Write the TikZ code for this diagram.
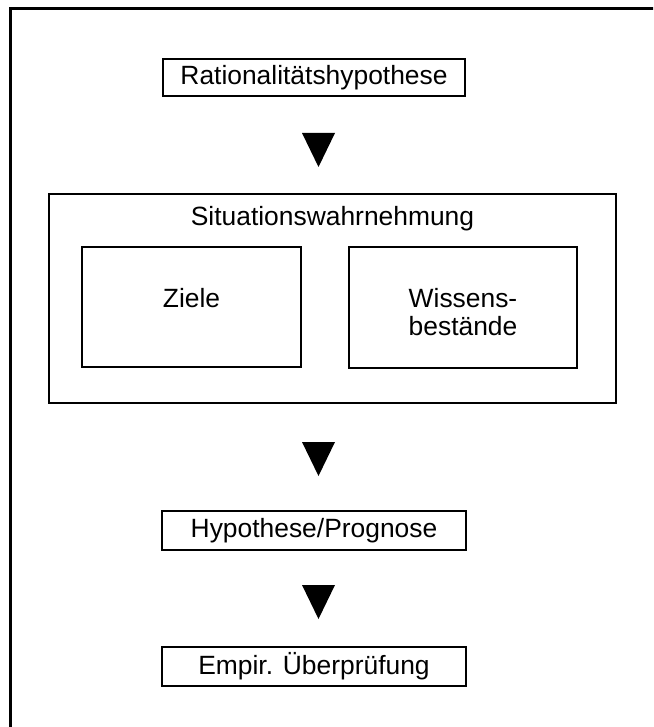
\documentclass[tikz,border=0pt]{standalone}
\usepackage{fontspec}
\setmainfont{Liberation Sans}
\usetikzlibrary{shapes.geometric}
\tikzset{
  box/.style={
    rectangle,
    draw,
    line width=1pt,
    inner sep=0mm,
    outer sep=0mm,
  font=\fontsize{13.2}{14}\selectfont
  },
  inbox/.style={
    box,
    align=center,
    text height=6pt,
    text depth=6pt
  },
  pfeil/.style={
    isosceles triangle,
    isosceles triangle stretches,
    shape border rotate=-90,
    minimum width=16.5pt,
    minimum height=17pt,
    inner sep=0mm,
    outer sep=0mm,
  fill=black
  }
}

\begin{document}
\begin{tikzpicture}[x=0.5pt,y=-0.5pt]
    \useasboundingbox (0,0) rectangle (653,727);
    \clip (0,0) rectangle (653,727);
    \draw[line width=1.35pt] (10.5,8.5) rectangle (700,780);
    \node[box,minimum width=151pt,minimum height=18.5pt] (ratio) at (314,77.5) {Rationalitätshypothese};
    \node[pfeil,anchor=apex] (pfeil1) at (318.5,167) {};
    \node[box,minimum width=283.5pt,minimum height=104.5pt] (situation) at (332.5,298.5) {};
    \node[font=\fontsize{13.2}{14}\selectfont] (sitlabel) at (332.5,219) {Situationswahrnehmung};
    \node[inbox,minimum width=109.5pt,minimum height=60pt] (ziele) at (191.5,307) {Ziele};
    \node[inbox,minimum width=114pt,minimum height=60.5pt,text height=34pt] (wissen) at (463,307.5) {Wissens-\\bestände};
    \node[pfeil,anchor=apex] (pfeil2) at (318.5,476) {};
    \node[box,minimum width=152pt,minimum height=19.5pt] (hypo) at (314,530.5) {Hypothese/Prognose};
    \node[pfeil,anchor=apex] (pfeil3) at (318.5,619) {};
    \node[box,minimum width=152pt,minimum height=19.5pt] (empir) at (314,666.5) {Empir. Überprüfung};
\end{tikzpicture}
\end{document}
